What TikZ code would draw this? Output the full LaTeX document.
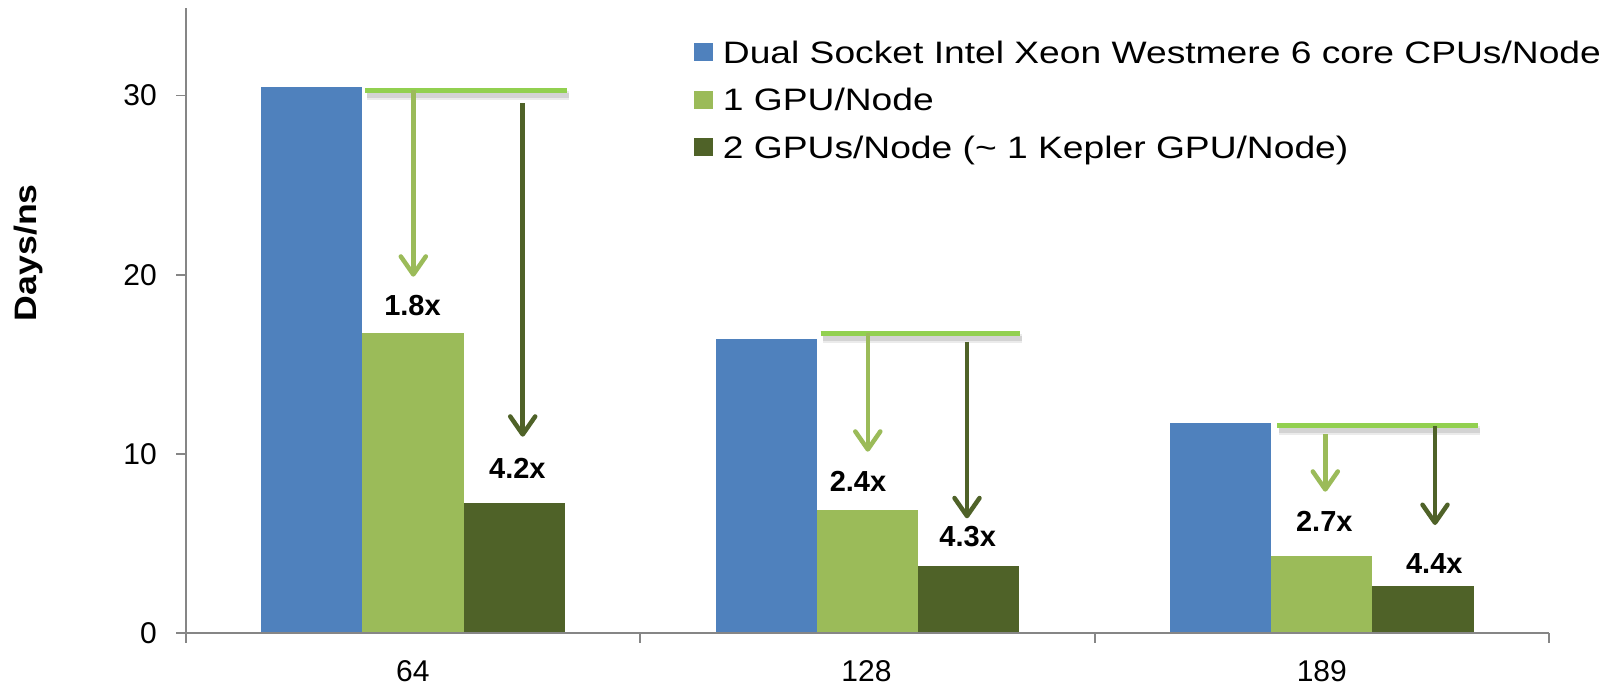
\documentclass[tikz,border=0pt]{standalone}
\usepackage{fontspec}
\setmainfont{Liberation Sans}
\newfontfamily\legendfont{Liberation Sans}[FakeStretch=1.2]
\newfontfamily\titlefont{Liberation Sans}[FakeStretch=1.15]
\usetikzlibrary{arrows.meta}

\definecolor{cpublue}{HTML}{4F81BD}
\definecolor{gpulight}{HTML}{9BBB59}
\definecolor{gpudark}{HTML}{4F6228}
\definecolor{refgreen}{HTML}{92D050}
\definecolor{axisgray}{HTML}{868686}

\tikzset{
  axisline/.style={draw=axisgray, line width=1.8pt},
  ticklabel/.style={font=\fontsize{30}{35}\selectfont, inner sep=0pt, text depth=0pt},
  gainlabel/.style={font=\fontsize{29}{34}\selectfont\bfseries, inner sep=0pt, text depth=0pt},
  legendtext/.style={font=\legendfont\fontsize{31}{36}\selectfont, inner sep=0pt, anchor=base west},
  refline/.style={draw=refgreen, line width=5pt},
  refshadow/.style={draw=black, opacity=0.08, line width=9pt},
  refshadowcore/.style={draw=black, opacity=0.10, line width=5pt},
  lightarrow/.style={draw=gpulight, line width=4.5pt,
    -{Straight Barb[length=18pt, width=25pt, line cap=round, line join=round]}},
  darkarrow/.style={draw=gpudark, line width=4.5pt,
    -{Straight Barb[length=18pt, width=25pt, line cap=round, line join=round]}},
}

\begin{document}
\begin{tikzpicture}[x=1pt, y=-1pt]
  \useasboundingbox (0,0) rectangle (1617,686);
  \fill[white] (0,0) rectangle (1617,686);

  % ---- bars (zero at y=633) ----
  % 64 cores
  \fill[cpublue]  (261,633)   rectangle (362.4,86.6);
  \fill[gpulight] (362.4,633) rectangle (463.6,332.5);
  \fill[gpudark]  (463.6,633) rectangle (564.8,503);
  % 128 cores
  \fill[cpublue]  (715.5,633) rectangle (816.7,339);
  \fill[gpulight] (816.7,633) rectangle (917.9,509.7);
  \fill[gpudark]  (917.9,633) rectangle (1019.1,565.7);
  % 189 cores
  \fill[cpublue]  (1170,633)   rectangle (1271.2,423.3);
  \fill[gpulight] (1271.2,633) rectangle (1372.4,556);
  \fill[gpudark]  (1372.4,633) rectangle (1473.6,585.7);

  % ---- axes ----
  \draw[axisline] (185.6,8) -- (185.6,643);
  \draw[axisline] (185.6,633) -- (1549,633);
  \foreach \yy in {95.4,274.7,453.6,633} \draw[axisline] (176,\yy) -- (185.6,\yy);
  \foreach \xx in {640,1094.6,1549} \draw[axisline] (\xx,633) -- (\xx,643);

  \node[ticklabel, anchor=east] (t30) at (157,95.4) {30};
  \node[ticklabel, anchor=east] (t20) at (157,274.7) {20};
  \node[ticklabel, anchor=east] (t10) at (157,453.6) {10};
  \node[ticklabel, anchor=east] (t0)  at (157,633) {0};

  \node[ticklabel] (c64)  at (412.8,671) {64};
  \node[ticklabel] (c128) at (866.5,671) {128};
  \node[ticklabel] (c189) at (1321.8,671) {189};

  \node[font=\titlefont\fontsize{31}{36}\selectfont\bfseries, rotate=90, inner sep=0pt] (ylab) at (28,252.7) {Days/ns};

  % ---- reference levels and speed-up arrows ----
  \coordinate (r1a) at (365,90);     \coordinate (r1b) at (566.7,90);
  \coordinate (r2a) at (820.5,333.3); \coordinate (r2b) at (1020.2,333.3);
  \coordinate (r3a) at (1277.3,425.7); \coordinate (r3b) at (1478.3,425.7);

  \foreach \a/\b in {r1a/r1b, r2a/r2b, r3a/r3b} {
    \draw[refshadow] ([shift={(2,5)}]\a) -- ([shift={(2,5)}]\b);
    \draw[refshadowcore] ([shift={(2,5)}]\a) -- ([shift={(2,5)}]\b);
  }
  \draw[refline] (r1a) -- (r1b);
  \draw[refline] (r2a) -- (r2b);
  \draw[refline] (r3a) -- (r3b);

  \coordinate (l1s) at (413.3,90);    \coordinate (l1e) at (413.3,276.7);
  \coordinate (d1s) at (522.7,103);   \coordinate (d1e) at (522.7,436.7);
  \coordinate (l2s) at (867.8,333.3); \coordinate (l2e) at (867.8,451.7);
  \coordinate (d2s) at (967,341.7);   \coordinate (d2e) at (967,518.3);
  \coordinate (l3s) at (1325.3,434);  \coordinate (l3e) at (1325.3,491.7);
  \coordinate (d3s) at (1435,426);    \coordinate (d3e) at (1435,525);

  \draw[lightarrow] (l1s) -- (l1e);
  \draw[darkarrow]  (d1s) -- (d1e);
  \draw[lightarrow] (l2s) -- (l2e);
  \draw[darkarrow]  (d2s) -- (d2e);
  \draw[lightarrow] (l3s) -- (l3e);
  \draw[darkarrow]  (d3s) -- (d3e);

  \node[gainlabel] (g1a) at (412.5,305.5) {1.8x};
  \node[gainlabel] (g1b) at (517.4,468)   {4.2x};
  \node[gainlabel] (g2a) at (858,481.7)   {2.4x};
  \node[gainlabel] (g2b) at (967.7,536)   {4.3x};
  \node[gainlabel] (g3a) at (1324.3,521.7) {2.7x};
  \node[gainlabel] (g3b) at (1434.3,564)  {4.4x};

  % ---- legend ----
  \fill[cpublue]  (694,42.7) rectangle (713,61);
  \fill[gpulight] (694,90.5) rectangle (713,109);
  \fill[gpudark]  (694,137.5) rectangle (713,156);
  \node[legendtext] (leg1) at (722.7,63.3) {Dual Socket Intel Xeon Westmere 6 core CPUs/Node};
  \node[legendtext] (leg2) at (722.7,110.5) {1 GPU/Node};
  \node[legendtext] (leg3) at (722.7,158) {2 GPUs/Node (\textasciitilde\ 1 Kepler GPU/Node)};
\end{tikzpicture}
\end{document}
